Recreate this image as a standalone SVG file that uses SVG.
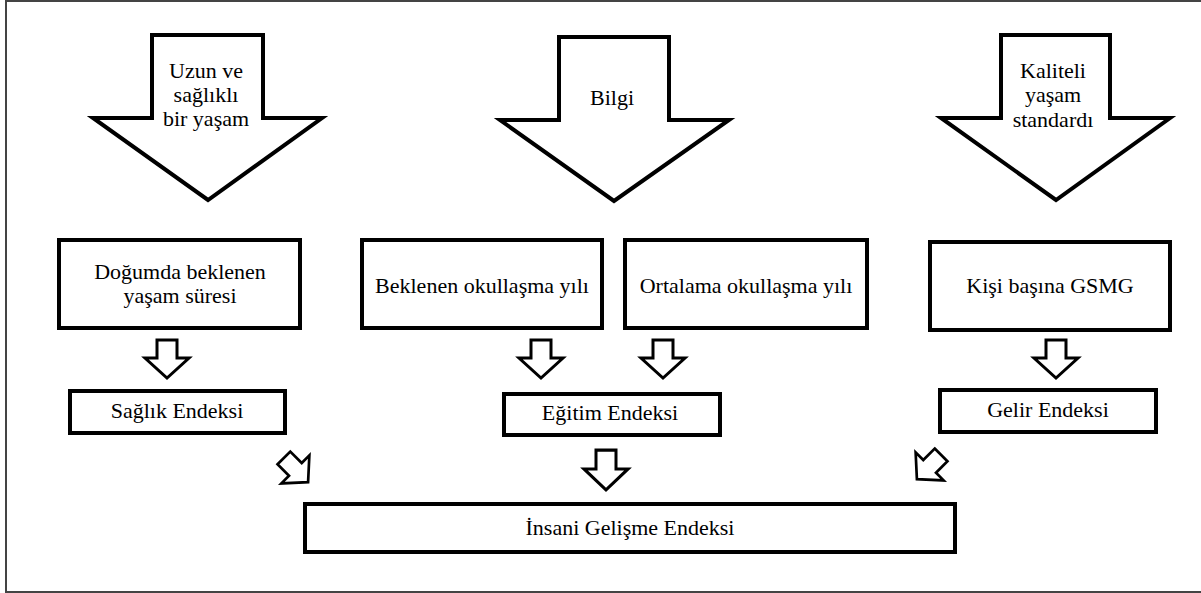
<svg xmlns="http://www.w3.org/2000/svg" width="1201" height="593" viewBox="0 0 1201 593" font-family="Liberation Serif, DejaVu Serif, serif">
<defs>
<style>
.bg{fill:#fff}
.frame{fill:none;stroke:#444;stroke-width:2}
.big{fill:#fff;stroke:#000;stroke-width:4;stroke-linejoin:miter}
.box{fill:#fff;stroke:#000;stroke-width:4}
.sm{fill:#fff;stroke:#000;stroke-width:3;stroke-linejoin:miter}
.t{font-family:'Liberation Serif','DejaVu Serif',serif;font-size:22px;fill:#000;text-anchor:middle}
</style>
<path id="smallArrow" d="M-10,-19 H10 V-1 H22 L0,19 L-22,-1 H-10 Z"/>
</defs>
<rect class="bg" x="0" y="0" width="1201" height="593"/>
<path class="frame" d="M1201,1 H6 V592 H1201"/>

<g id="arrow-uzun">
<path class="big" d="M152,35 H263 V118 H322 L208,200 L93,118 H152 Z"/>
<text class="t" x="206" y="78">Uzun ve</text>
<text class="t" x="206" y="102">sağlıklı</text>
<text class="t" x="206" y="126">bir yaşam</text>
</g>
<g id="arrow-bilgi">
<path class="big" d="M559,37 H669 V120 H729 L614,201 L500,120 H559 Z"/>
<text class="t" x="612" y="105">Bilgi</text>
</g>
<g id="arrow-kaliteli">
<path class="big" d="M1001,35 H1110 V118 H1170 L1056,200 L941,118 H1001 Z"/>
<text class="t" x="1053" y="78">Kaliteli</text>
<text class="t" x="1053" y="102">yaşam</text>
<text class="t" x="1053" y="127">standardı</text>
</g>

<g id="box-dogumda">
<rect class="box" x="59" y="240" width="241" height="88"/>
<text class="t" x="180" y="279">Doğumda beklenen</text>
<text class="t" x="180" y="303">yaşam süresi</text>
</g>
<g id="box-beklenen">
<rect class="box" x="362" y="240" width="240" height="88"/>
<text class="t" x="482" y="293">Beklenen okullaşma yılı</text>
</g>
<g id="box-ortalama">
<rect class="box" x="625" y="240" width="242" height="88"/>
<text class="t" x="746" y="293">Ortalama okullaşma yılı</text>
</g>
<g id="box-kisi">
<rect class="box" x="930" y="242" width="240" height="88"/>
<text class="t" x="1050" y="293">Kişi başına GSMG</text>
</g>
<g id="box-saglik">
<rect class="box" x="70" y="391" width="215" height="42"/>
<text class="t" x="177" y="418">Sağlık Endeksi</text>
</g>
<g id="box-egitim">
<rect class="box" x="504" y="394" width="216" height="41"/>
<text class="t" x="610" y="420">Eğitim Endeksi</text>
</g>
<g id="box-gelir">
<rect class="box" x="940" y="390" width="216" height="42"/>
<text class="t" x="1048" y="417">Gelir Endeksi</text>
</g>
<g id="box-insani">
<rect class="box" x="305" y="504" width="650" height="48"/>
<text class="t" x="630" y="535">İnsani Gelişme Endeksi</text>
</g>

<g id="connectors">
<use href="#smallArrow" class="sm" transform="translate(167,359)"/>
<use href="#smallArrow" class="sm" transform="translate(541,359)"/>
<use href="#smallArrow" class="sm" transform="translate(663,359)"/>
<use href="#smallArrow" class="sm" transform="translate(1056,359)"/>
<use href="#smallArrow" class="sm" transform="translate(606,470) scale(1,1.05)"/>
<use href="#smallArrow" class="sm" transform="translate(296,470) rotate(-45) scale(0.9)"/>
<use href="#smallArrow" class="sm" transform="translate(929,467) rotate(45) scale(0.9)"/>
</g>
</svg>
